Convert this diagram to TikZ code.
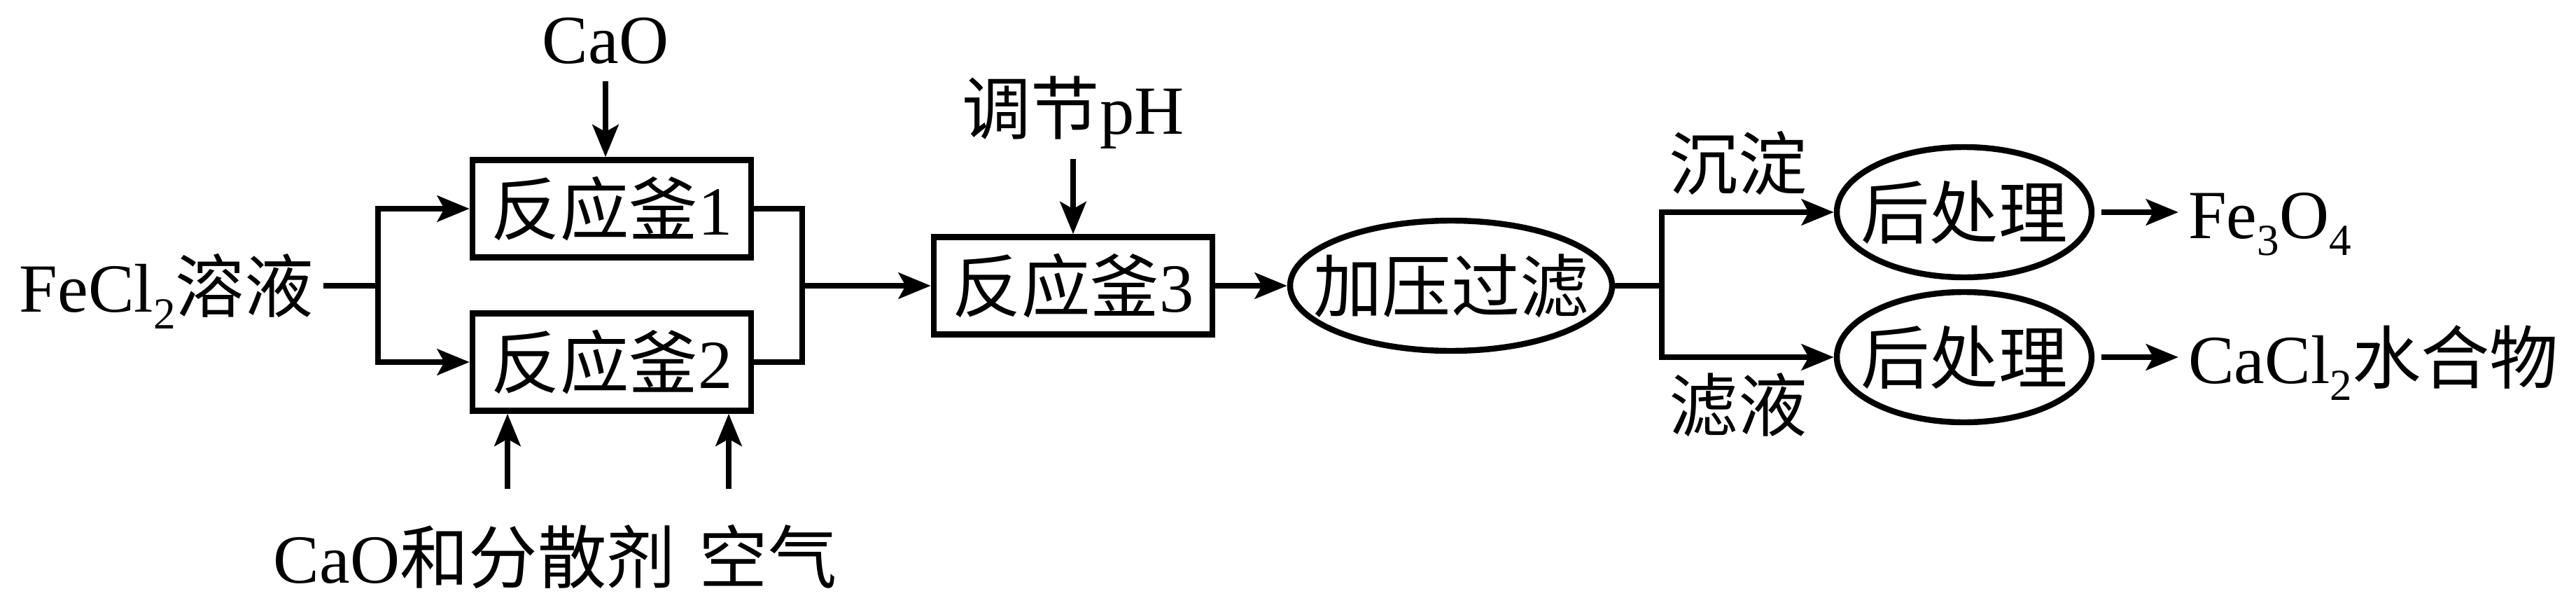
\documentclass[tikz,border=0pt]{standalone}
\usepackage{fontspec}
\setmainfont{Liberation Serif}
\newfontfamily\cjk{Noto Sans CJK SC}
\newcommand{\zh}[1]{{\cjk #1}}
\newcommand{\low}[1]{\raisebox{-7pt}{\fontsize{18}{20}\selectfont #1}}
\usetikzlibrary{arrows.meta,shapes.geometric}

\begin{document}
\begin{tikzpicture}[->,>={Stealth[length=4.6mm,width=3.7mm,inset=1mm]},line width=2.4pt,
  every node/.style={font=\fontsize{28}{32}\selectfont,inner sep=1mm,text height=24.6pt,text depth=3.4pt},
  kettle/.style={draw,rectangle,minimum width=3.98cm,minimum height=1.39cm,inner sep=0pt},
  oval/.style={draw,ellipse,minimum height=1.86cm,inner sep=0pt}]
\useasboundingbox (0,0) rectangle (36.8,-8.6);

\node (feed) [anchor=east] at (4.62,-4.08) {FeCl\low{2}\zh{溶液}};
\coordinate (split) at (5.40,-4.08);
\node[kettle] (kettle 1) at (8.74,-2.98) {\zh{反应釜}1};
\node[kettle] (kettle 2) at (8.74,-5.17) {\zh{反应釜}2};
\coordinate (merge) at (11.46,-4.08);
\node[kettle] (kettle 3) at (15.33,-4.08) {\zh{反应釜}3};
\node[oval,minimum width=4.6cm,label={center:\zh{加压过滤}}] (press filter) at (20.73,-4.08) {};
\coordinate (fork) at (23.74,-4.08);
\node[oval,minimum width=3.64cm,label={center:\zh{后处理}}] (post 1) at (28.06,-3.03) {};
\node[oval,minimum width=3.64cm,label={center:\zh{后处理}}] (post 2) at (28.06,-5.10) {};
\node (fe3o4) [anchor=west] at (31.12,-3.03) {Fe\low{3}O\low{4}};
\node (cacl2) [anchor=west] at (31.12,-5.10) {CaCl\low{2}\zh{水合物}};

\node (cao top) at (8.65,-0.53) {CaO};
\node (ph) at (15.33,-1.54) {\zh{调节}pH};
\node (dispersant) at (6.78,-7.95) {CaO\zh{和分散剂}};
\node (air) at (10.97,-7.95) {\zh{空气}};
\node (precip) at (24.83,-2.33) {\zh{沉淀}};
\node (filtrate) at (24.83,-5.78) {\zh{滤液}};
\coordinate (cao in) at ([shift={(0.47,0.34)}]dispersant.north);
\coordinate (air in) at ([shift={(-0.56,0.34)}]air.north);

\draw[-] (feed) -- (split);
\draw (split) |- (kettle 1);
\draw (split) |- (kettle 2);
\draw[-] (kettle 1) -| (merge) |- (kettle 2);
\draw (merge) -- (kettle 3);
\draw (kettle 3) -- (press filter);
\draw[-] (press filter) -- (fork);
\draw (fork) |- (post 1);
\draw (fork) |- (post 2);
\draw[shorten <=1mm] (post 1) -- (fe3o4);
\draw[shorten <=1mm] (post 2) -- (cacl2);
\draw (cao top) -- (cao top |- kettle 1.north);
\draw[shorten <=1mm] (ph) -- (ph |- kettle 3.north);
\draw (cao in) -- (cao in |- kettle 2.south);
\draw (air in) -- (air in |- kettle 2.south);
\end{tikzpicture}
\end{document}
